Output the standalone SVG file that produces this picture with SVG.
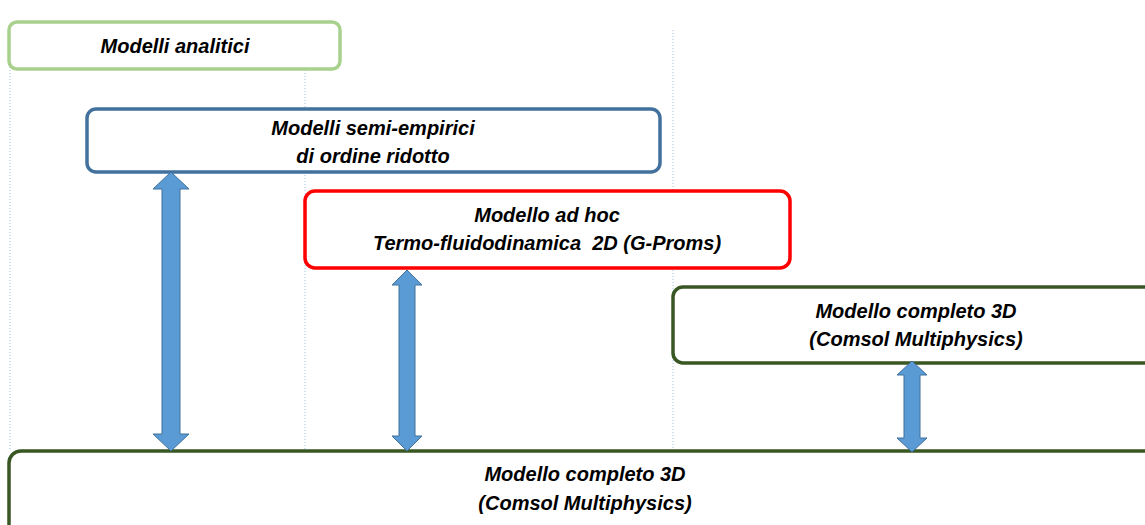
<svg xmlns="http://www.w3.org/2000/svg" width="1145" height="525" viewBox="0 0 1145 525">
<style>
text{font-family:"Liberation Sans",Arial,sans-serif;font-weight:bold;font-style:italic;font-size:20px;fill:#000;text-anchor:middle}
.guide{stroke:#9dc3e6;stroke-width:1;stroke-dasharray:1 2;fill:none}
.box{fill:#fff;stroke-width:3.5}
.arr{fill:#5b9bd5;stroke:#41719c;stroke-width:1}
</style>
<rect width="1145" height="525" fill="#fff"/>
<g id="guides">
<line class="guide" x1="10" y1="43" x2="10" y2="451"/>
<line class="guide" x1="305" y1="70" x2="305" y2="451"/>
<line class="guide" x1="673" y1="30" x2="673" y2="451"/>
</g>
<g id="n-analitici">
<rect class="box" x="9" y="22" width="331" height="47" rx="8" stroke="#a9d18e"/>
<text x="175" y="53">Modelli analitici</text>
</g>
<g id="n-semiempirici">
<rect class="box" x="87" y="109" width="573" height="63" rx="9" stroke="#41719c" stroke-width="3"/>
<text x="373" y="135">Modelli semi-empirici</text>
<text x="373" y="163">di ordine ridotto</text>
</g>
<g id="n-adhoc">
<rect class="box" x="305" y="191" width="485" height="77" rx="10" stroke="#ff0000"/>
<text x="547" y="222">Modello ad hoc</text>
<text x="547" y="250" xml:space="preserve">Termo-fluidodinamica  2D (G-Proms)</text>
</g>
<g id="n-completo-top">
<rect class="box" x="673" y="287" width="486" height="76" rx="10" stroke="#385723"/>
<text x="916" y="318">Modello completo 3D</text>
<text x="916" y="346">(Comsol Multiphysics)</text>
</g>
<g id="n-completo-bottom">
<rect class="box" x="9" y="451" width="1152" height="90" rx="12" stroke="#385723"/>
<text x="585" y="481">Modello completo 3D</text>
<text x="585" y="510">(Comsol Multiphysics)</text>
</g>
<g id="connectors">
<polygon class="arr" points="171,172 189,189 180,189 180,434 189,434 171,451 153,434 162,434 162,189 153,189"/>
<polygon class="arr" points="407,270 422,285 415,285 415,436 422,436 407,451 392,436 399,436 399,285 392,285"/>
<polygon class="arr" points="912,361 927,375 920,375 920,438 927,438 912,452 897,438 904,438 904,375 897,375"/>
</g>
</svg>
